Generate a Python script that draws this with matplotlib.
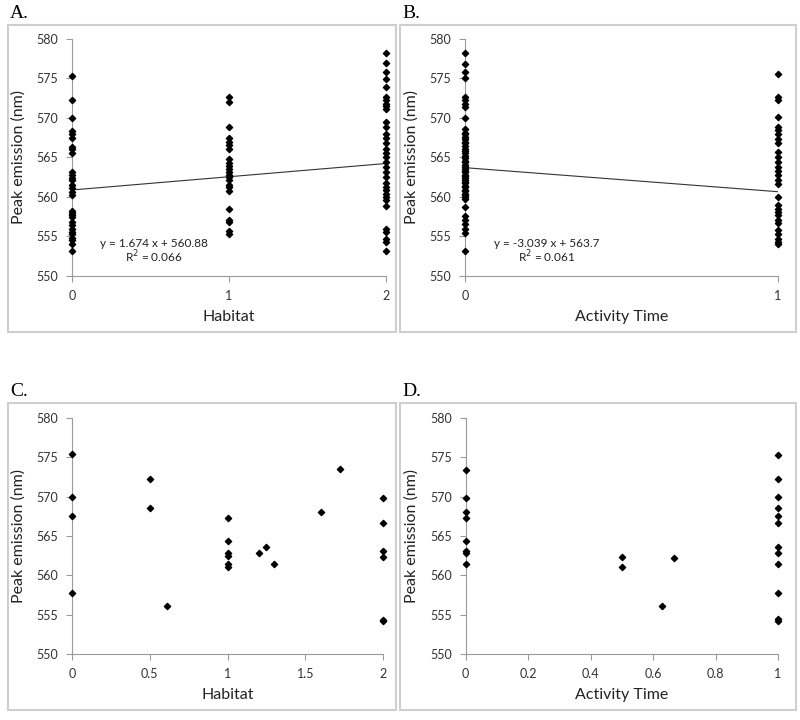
import matplotlib
matplotlib.use('Agg')
import matplotlib.pyplot as plt
from matplotlib.patches import Rectangle
import numpy as np

plt.rcParams['font.family'] = ['Lato', 'DejaVu Sans']

# ---- data ----
habitat0 = [575.3, 572.2, 570.0, 568.4, 567.9, 567.5, 566.3, 566.0, 565.5, 563.1,
            562.8, 562.4, 562.1, 561.5, 561.1, 560.6, 560.2, 558.2, 558.0, 557.7,
            557.4, 556.8, 556.4, 556.0, 555.6, 555.3, 554.8, 554.5, 554.1, 553.1]
habitat1 = [572.6, 572.0, 568.9, 567.4, 567.0, 566.6, 566.1, 564.8, 564.3, 563.9,
            563.5, 563.1, 562.8, 562.5, 562.1, 561.5, 561.2, 560.8, 558.5, 557.1,
            556.8, 555.7, 555.3]
habitat2 = [578.2, 576.9, 575.8, 574.9, 573.9, 572.7, 572.3, 571.8, 571.5, 571.1,
            569.5, 568.9, 568.0, 567.4, 566.8, 566.1, 565.6, 565.1, 564.4, 563.8,
            563.2, 562.5, 561.7, 561.3, 560.9, 560.4, 560.0, 559.6, 558.9, 556.0,
            555.6, 554.7, 554.3, 553.2]

activity0 = [578.2, 576.8, 575.8, 575.0, 572.7, 572.3, 571.8, 571.4, 570.0, 568.6,
             568.1, 567.9, 567.6, 567.3, 567.0, 566.8, 566.4, 566.1, 565.8, 565.5,
             565.2, 564.9, 564.6, 564.4, 564.1, 563.8, 563.5, 563.3, 563.1, 562.8,
             562.6, 562.4, 562.1, 561.9, 561.7, 561.4, 561.2, 560.9, 560.7, 560.4,
             560.2, 560.0, 559.7, 558.7, 557.6, 557.1, 556.6, 556.0, 555.5, 553.1]
activity1 = [575.5, 572.6, 572.3, 570.1, 568.9, 568.5, 567.9, 567.3, 566.8, 565.7,
             565.1, 564.4, 563.8, 563.3, 562.8, 562.1, 561.6, 560.0, 559.0, 558.5,
             558.1, 557.7, 557.1, 556.7, 555.8, 555.3, 554.7, 554.3, 554.0]

# panel C: mean habitat per species
c_x = [0, 0, 0, 0, 0.5, 0.5, 0.61, 1, 1, 1, 1, 1, 1, 1.2, 1.25, 1.3, 1.6, 1.725,
       2, 2, 2, 2, 2, 2]
c_y = [575.4, 570.0, 567.6, 557.7, 572.3, 568.5, 556.1, 567.3, 564.4, 562.8, 562.4,
       561.4, 561.0, 562.9, 563.6, 561.5, 568.1, 573.5, 569.8, 566.7, 563.1, 562.3,
       554.3, 554.2]

# panel D: mean activity time per species
d_x = [0, 0, 0, 0, 0, 0, 0, 0, 0.5, 0.5, 0.63, 0.667,
       1, 1, 1, 1, 1, 1, 1, 1, 1, 1, 1, 1]
d_y = [573.4, 569.8, 568.1, 567.3, 564.4, 563.1, 562.8, 561.4, 562.3, 561.0, 556.1,
       562.2, 575.3, 572.3, 570.0, 568.5, 567.5, 566.7, 563.6, 562.8, 561.4, 557.7,
       554.4, 554.2]

trend_a = (1.674, 560.88)
trend_b = (-3.039, 563.7)
eq_a = ['y = 1.674 x + 560.88', 'R$^2$ = 0.066']
eq_b = ['y = -3.039 x + 563.7', 'R$^2$ = 0.061']

y_ticks = [550, 555, 560, 565, 570, 575, 580]

W, H = 800, 720
fig = plt.figure(figsize=(8, 7.2), dpi=100)


def ax_at(x0, x1, ytop, ybot):
    return fig.add_axes([x0 / W, 1 - ybot / H, (x1 - x0) / W, (ybot - ytop) / H])


def style(ax, xmax, xticks, xlabels, xlabel):
    ax.set_xlim(0, xmax)
    ax.set_ylim(550, 580)
    ax.set_xticks(xticks)
    ax.set_xticklabels(xlabels)
    ax.set_yticks(y_ticks)
    for s in ['top', 'right']:
        ax.spines[s].set_visible(False)
    for s in ['left', 'bottom']:
        ax.spines[s].set_color('#9a9a9a')
        ax.spines[s].set_linewidth(0.8)
    ax.tick_params(colors='#9a9a9a', labelcolor='#333333', labelsize=9,
                   length=4, width=0.8, pad=6)
    ax.set_ylabel('Peak emission (nm)', fontsize=11.5, color='#222222', labelpad=8)
    ax.set_xlabel(xlabel, fontsize=11.5, color='#222222', labelpad=6)
    ax.patch.set_alpha(0)


def scatter(ax, xs, ys):
    ax.scatter(xs, ys, marker='D', s=10, color='black', zorder=3, clip_on=False)


# boxes and panel letters
for (bx0, bx1, by0, by1, letter) in [(8, 396, 25, 332, 'A.'), (400, 796, 25, 332, 'B.'),
                                      (8, 396, 403, 710, 'C.'), (400, 796, 403, 710, 'D.')]:
    fig.add_artist(Rectangle((bx0 / W, 1 - by1 / H), (bx1 - bx0) / W, (by1 - by0) / H,
                             transform=fig.transFigure, fill=False,
                             edgecolor='#cfcfcf', linewidth=1.5))
    fig.text((bx0 + 2) / W, 1 - (by0 - 11) / H, letter, family='Liberation Serif',
             fontsize=14, va='center', ha='left')

# A
ax = ax_at(72, 386, 38.8, 276)
style(ax, 2, [0, 1, 2], ['0', '1', '2'], 'Habitat')
scatter(ax, [0] * len(habitat0), habitat0)
scatter(ax, [1] * len(habitat1), habitat1)
scatter(ax, [2] * len(habitat2), habitat2)
xx = np.array([0, 2])
ax.plot(xx, trend_a[0] * xx + trend_a[1], color='#333333', lw=0.8, zorder=2)
ax.text(0.52, 554.1, eq_a[0], fontsize=8.5, ha='center', va='center', color='#222222')
ax.text(0.52, 552.4, eq_a[1], fontsize=8.5, ha='center', va='center', color='#222222')

# B
ax = ax_at(465, 778, 38.8, 276)
style(ax, 1, [0, 1], ['0', '1'], 'Activity Time')
scatter(ax, [0] * len(activity0), activity0)
scatter(ax, [1] * len(activity1), activity1)
xx = np.array([0, 1])
ax.plot(xx, trend_b[0] * xx + trend_b[1], color='#333333', lw=0.8, zorder=2)
ax.text(0.26, 554.1, eq_b[0], fontsize=8.5, ha='center', va='center', color='#222222')
ax.text(0.26, 552.4, eq_b[1], fontsize=8.5, ha='center', va='center', color='#222222')

# C
ax = ax_at(72, 383, 418, 654)
style(ax, 2, [0, 0.5, 1, 1.5, 2], ['0', '0.5', '1', '1.5', '2'], 'Habitat')
scatter(ax, c_x, c_y)

# D
ax = ax_at(465.5, 778, 418, 654)
style(ax, 1, [0, 0.2, 0.4, 0.6, 0.8, 1], ['0', '0.2', '0.4', '0.6', '0.8', '1'],
      'Activity Time')
scatter(ax, d_x, d_y)

fig.savefig('out.png', dpi=100)
